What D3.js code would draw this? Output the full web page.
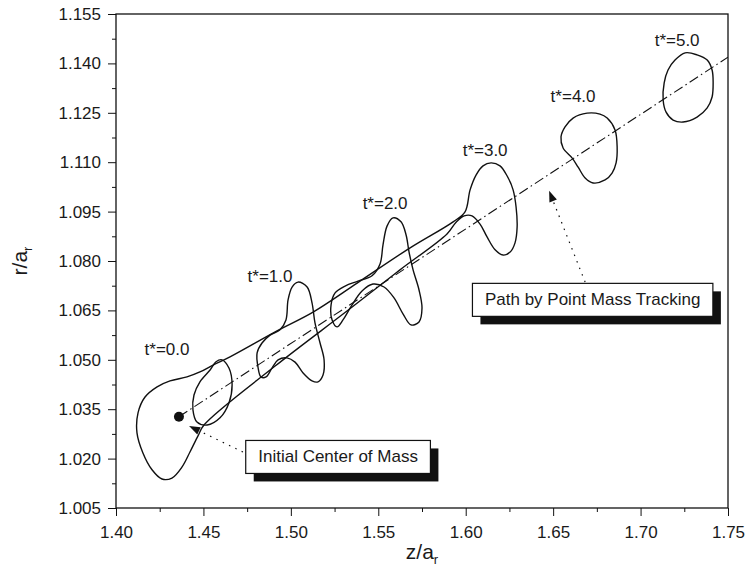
<!DOCTYPE html>
<html><head><meta charset="utf-8">
<script src="https://cdn.jsdelivr.net/npm/d3@7"></script>
<style>
body{margin:0;background:#fff;}
text{font-family:"Liberation Sans",Arial,Helvetica,sans-serif;fill:#1a1a1a;}
</style>
</head><body>
<svg id="chart" width="749" height="567"></svg>
<script>
// ---------- data ----------
const xMajorTicks = [1.40, 1.45, 1.50, 1.55, 1.60, 1.65, 1.70, 1.75];
const xTickLabels = ["1.40", "1.45", "1.50", "1.55", "1.60", "1.65", "1.70", "1.75"];
const xMinorTicks = [1.425, 1.475, 1.525, 1.575, 1.625, 1.675, 1.725];
const yMajorTicks = [1.005, 1.020, 1.035, 1.050, 1.065, 1.080, 1.095, 1.110, 1.125, 1.140, 1.155];
const yTickLabels = ["1.005", "1.020", "1.035", "1.050", "1.065", "1.080", "1.095", "1.110", "1.125", "1.140", "1.155"];
const yMinorTicks = [1.0125, 1.0275, 1.0425, 1.0575, 1.0725, 1.0875, 1.1025, 1.1175, 1.1325, 1.1475];

// point-mass tracking path (z, r)
const pathZ = [1.436, 1.75];
const pathR = [1.0327, 1.1419];
const centerOfMass = [1.436, 1.0327];

// interface contours (z/a_r, r/a_r)
const contourT0 = [[1.4606,1.0500],[1.4646,1.0475],[1.4664,1.0424],[1.4646,1.0369],[1.4595,1.0324],[1.4521,1.0302],[1.4463,1.0311],[1.4440,1.0348],[1.4446,1.0393],[1.4480,1.0433],[1.4538,1.0469],[1.4572,1.0494]];
const contourT1 = [[1.5041,1.0736],[1.5093,1.0721],[1.5121,1.0673],[1.5138,1.0612],[1.5167,1.0551],[1.5190,1.0500],[1.5184,1.0454],[1.5155,1.0433],[1.5121,1.0436],[1.5070,1.0460],[1.5024,1.0493],[1.4978,1.0506],[1.4927,1.0500],[1.4892,1.0475],[1.4858,1.0448],[1.4829,1.0448],[1.4812,1.0478],[1.4807,1.0521],[1.4835,1.0551],[1.4881,1.0575],[1.4938,1.0591],[1.4972,1.0621],[1.4984,1.0682],[1.5007,1.0721]];
const contourT2 = [[1.5584,1.0931],[1.5630,1.0919],[1.5659,1.0879],[1.5676,1.0827],[1.5699,1.0773],[1.5733,1.0712],[1.5750,1.0657],[1.5733,1.0615],[1.5687,1.0606],[1.5642,1.0639],[1.5590,1.0688],[1.5533,1.0721],[1.5470,1.0730],[1.5407,1.0709],[1.5350,1.0667],[1.5298,1.0621],[1.5264,1.0600],[1.5236,1.0621],[1.5230,1.0667],[1.5253,1.0703],[1.5310,1.0724],[1.5384,1.0739],[1.5464,1.0755],[1.5510,1.0791],[1.5527,1.0849],[1.5550,1.0906]];
const contourT3 = [[1.5996,1.0949],[1.6025,1.1016],[1.6059,1.1061],[1.6099,1.1089],[1.6145,1.1098],[1.6196,1.1089],[1.6237,1.1058],[1.6271,1.1016],[1.6288,1.0964],[1.6294,1.0903],[1.6282,1.0855],[1.6254,1.0827],[1.6214,1.0818],[1.6168,1.0834],[1.6122,1.0873],[1.6082,1.0912],[1.6036,1.0937],[1.5991,1.0937],[1.5945,1.0918],[1.5893,1.0882],[1.5624,1.0773],[1.5321,1.0648],[1.4910,1.0481],[1.4503,1.0302],[1.4469,1.0269],[1.4423,1.0220],[1.4378,1.0175],[1.4320,1.0141],[1.4263,1.0138],[1.4206,1.0166],[1.4154,1.0217],[1.4120,1.0278],[1.4126,1.0339],[1.4166,1.0387],[1.4235,1.0418],[1.4309,1.0436],[1.4406,1.0448],[1.4480,1.0463],[1.4555,1.0484],[1.4652,1.0509],[1.4921,1.0588],[1.5127,1.0645],[1.5379,1.0733],[1.5682,1.0840],[1.5928,1.0919]];
const contourT4 = [[1.6694,1.1249],[1.6768,1.1246],[1.6809,1.1234],[1.6854,1.1198],[1.6866,1.1146],[1.6860,1.1098],[1.6837,1.1067],[1.6797,1.1046],[1.6728,1.1037],[1.6683,1.1052],[1.6643,1.1085],[1.6608,1.1113],[1.6557,1.1143],[1.6545,1.1177],[1.6568,1.1207],[1.6614,1.1234]];
const contourT5 = [[1.7255,1.1432],[1.7323,1.1426],[1.7381,1.1410],[1.7409,1.1380],[1.7415,1.1341],[1.7409,1.1298],[1.7381,1.1265],[1.7323,1.1237],[1.7243,1.1222],[1.7186,1.1228],[1.7146,1.1252],[1.7129,1.1289],[1.7135,1.1341],[1.7157,1.1380],[1.7197,1.1410]];

// time labels
const timeLabels = ["t*=0.0", "t*=1.0", "t*=2.0", "t*=3.0", "t*=4.0", "t*=5.0"];
const timeLabelZ = [1.4292, 1.4881, 1.5539, 1.6111, 1.6614, 1.7209];
const timeLabelR = [1.0530, 1.0752, 1.0976, 1.1137, 1.1298, 1.1471];

// annotation callouts: text, box centre (z, r), arrow start (z, r), arrow tip (z, r)
const calloutText = ["Initial Center of Mass", "Path by Point Mass Tracking"];
const calloutZ = [1.5270, 1.6726];
const calloutR = [1.0205, 1.0682];
const arrowFromZ = [1.4726, 1.6683];
const arrowFromR = [1.0220, 1.0736];
const arrowToZ = [1.4418, 1.6477];
const arrowToR = [1.0299, 1.1013];

// ---------- chart ----------
const W = 749, H = 567;
const margin = {left: 116, right: 21, top: 14, bottom: 59};
const svg = d3.select("#chart");
const x = d3.scaleLinear().domain([1.40, 1.75]).range([margin.left, W - margin.right]);
const y = d3.scaleLinear().domain([1.005, 1.155]).range([H - margin.bottom, margin.top]);

// axes
const gx = svg.append("g").attr("transform", `translate(0,${H - margin.bottom})`)
  .call(d3.axisBottom(x).tickValues(xMajorTicks).tickSize(8).tickPadding(10)
    .tickFormat((d, i) => xTickLabels[i]));
const gxm = svg.append("g").attr("transform", `translate(0,${H - margin.bottom})`)
  .call(d3.axisBottom(x).tickValues(xMinorTicks).tickSize(4).tickFormat(""));
const gy = svg.append("g").attr("transform", `translate(${margin.left},0)`)
  .call(d3.axisLeft(y).tickValues(yMajorTicks).tickSize(8).tickPadding(7)
    .tickFormat((d, i) => yTickLabels[i]));
const gym = svg.append("g").attr("transform", `translate(${margin.left},0)`)
  .call(d3.axisLeft(y).tickValues(yMinorTicks).tickSize(4).tickFormat(""));
[gx, gxm, gy, gym].forEach(g => {
  g.select(".domain").remove();
  g.selectAll(".tick line").attr("stroke", "#111").attr("stroke-width", 1);
  g.selectAll(".tick text").attr("font-size", 17)
    .attr("font-family", '"Liberation Sans", Arial, sans-serif').attr("fill", "#1a1a1a");
});

// frame
svg.append("rect")
  .attr("x", x(1.40)).attr("y", y(1.155))
  .attr("width", x(1.75) - x(1.40)).attr("height", y(1.005) - y(1.155))
  .attr("fill", "none").attr("stroke", "#111").attr("stroke-width", 1.3);

// axis titles
const xt = svg.append("text").attr("x", (x(1.40) + x(1.75)) / 2).attr("y", 559)
  .attr("text-anchor", "middle").attr("font-size", 21);
xt.append("tspan").text("z/a");
xt.append("tspan").attr("font-size", 13).attr("dy", 5).text("r");

const yt = svg.append("text")
  .attr("transform", `translate(27,${(y(1.005) + y(1.155)) / 2}) rotate(-90)`)
  .attr("text-anchor", "middle").attr("font-size", 21);
yt.append("tspan").text("r/a");
yt.append("tspan").attr("font-size", 13).attr("dy", 5).text("r");

// clip
svg.append("clipPath").attr("id", "plotClip").append("rect")
  .attr("x", x(1.40)).attr("y", y(1.155))
  .attr("width", x(1.75) - x(1.40)).attr("height", y(1.005) - y(1.155));
const plot = svg.append("g").attr("clip-path", "url(#plotClip)");

// contours
const closedLine = d3.line().x(d => x(d[0])).y(d => y(d[1]))
  .curve(d3.curveCatmullRomClosed.alpha(0.5));
[contourT3, contourT0, contourT1, contourT2, contourT4, contourT5].forEach(c => {
  plot.append("path").attr("d", closedLine(c))
    .attr("fill", "none").attr("stroke", "#111").attr("stroke-width", 1.4);
});

// point-mass path (dash-dot)
const pathPts = pathZ.map((z, i) => [z, pathR[i]]);
plot.append("path")
  .attr("d", d3.line().x(d => x(d[0])).y(d => y(d[1]))(pathPts))
  .attr("fill", "none").attr("stroke", "#111").attr("stroke-width", 1.1)
  .attr("stroke-dasharray", "10,3.5,1.5,3.5");

// initial centre of mass
plot.append("circle").attr("cx", x(centerOfMass[0])).attr("cy", y(centerOfMass[1]))
  .attr("r", 5).attr("fill", "#111");

// time labels
timeLabels.forEach((t, i) => {
  svg.append("text").attr("x", x(timeLabelZ[i])).attr("y", y(timeLabelR[i]))
    .attr("text-anchor", "middle").attr("dominant-baseline", "central")
    .attr("font-size", 17).text(t);
});

// callouts
calloutText.forEach((t, i) => {
  // dotted arrow
  const x0 = x(arrowFromZ[i]), y0 = y(arrowFromR[i]);
  const x1 = x(arrowToZ[i]), y1 = y(arrowToR[i]);
  const ang = Math.atan2(y1 - y0, x1 - x0);
  const hl = 11, hw = 4;
  const bx = x1 - hl * Math.cos(ang), by = y1 - hl * Math.sin(ang);
  svg.append("line").attr("x1", x0).attr("y1", y0).attr("x2", bx).attr("y2", by)
    .attr("stroke", "#111").attr("stroke-width", 1.2).attr("stroke-dasharray", "1.5,5.5");
  svg.append("path")
    .attr("d", `M${x1},${y1}L${bx - hw * Math.sin(ang)},${by + hw * Math.cos(ang)}L${bx + hw * Math.sin(ang)},${by - hw * Math.cos(ang)}Z`)
    .attr("fill", "#111");

  const cx = x(calloutZ[i]), cy = y(calloutR[i]);
  const g = svg.append("g");
  const txt = g.append("text").attr("x", cx).attr("y", cy)
    .attr("text-anchor", "middle").attr("dominant-baseline", "central")
    .attr("font-size", 17).text(t);
  const bb = txt.node().getBBox();
  const padX = 12.5, bw = bb.width + 2 * padX, bh = 33;
  g.insert("rect", "text").attr("x", cx - bw / 2 + 8).attr("y", cy - bh / 2 + 8)
    .attr("width", bw).attr("height", bh).attr("fill", "#111");
  g.insert("rect", "text").attr("x", cx - bw / 2).attr("y", cy - bh / 2)
    .attr("width", bw).attr("height", bh).attr("fill", "#fff")
    .attr("stroke", "#111").attr("stroke-width", 1.2);
});
</script>
</body></html>
